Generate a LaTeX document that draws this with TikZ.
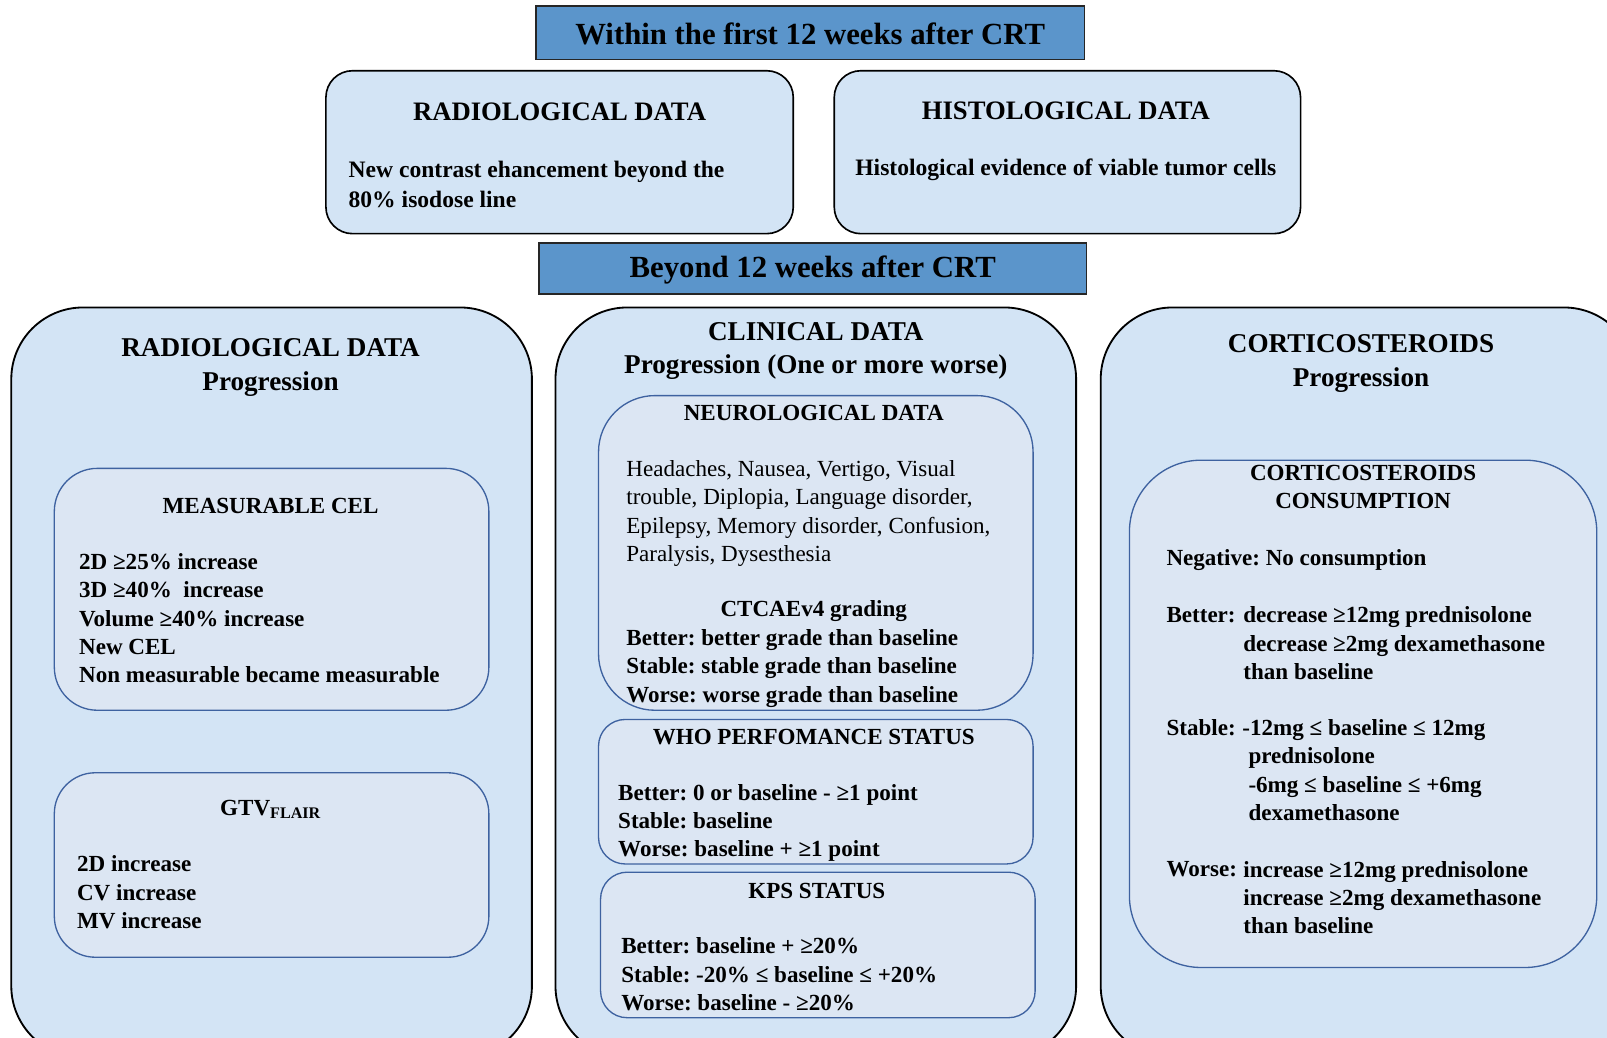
\documentclass[tikz,border=0pt]{standalone}
\usepackage{fontspec}
\setmainfont{Liberation Serif}
\definecolor{hdrblue}{RGB}{91,149,203}
\definecolor{outerblue}{RGB}{211,228,245}
\definecolor{innerfill}{RGB}{220,230,243}
\definecolor{innerline}{RGB}{62,98,160}
\begin{document}
\frenchspacing
\begin{tikzpicture}[x=1pt,y=-1pt,
  hdr/.style={draw=black!85, line width=1.6pt, fill=hdrblue},
  outerbox/.style={draw=black, line width=1.8pt, fill=outerblue, rounded corners=70pt},
  topbox/.style={draw=black, line width=1.6pt, fill=outerblue, rounded corners=26pt},
  innerbox/.style={draw=innerline, line width=1.3pt, fill=innerfill},
  hdrtxt/.style={inner sep=0pt, font=\fontsize{30}{34}\selectfont\bfseries},
  bigttl/.style={inner sep=0pt, anchor=north, align=center, font=\fontsize{26.5}{33}\selectfont\bfseries},
  topttl/.style={inner sep=0pt, font=\fontsize{26}{30}\selectfont\bfseries},
  topbody/.style={inner sep=0pt, anchor=north west, align=left, font=\fontsize{23}{29}\selectfont\bfseries},
  subttl/.style={inner sep=0pt, align=center, font=\fontsize{22.5}{27.5}\selectfont\bfseries},
  body/.style={inner sep=0pt, anchor=north west, align=left, font=\fontsize{22.5}{27.6}\selectfont\bfseries},
  bodyreg/.style={inner sep=0pt, anchor=north west, align=left, font=\fontsize{22.5}{27.7}\selectfont}
]
\useasboundingbox (0,0) rectangle (1568,1012);
\fill[white] (0,0) rectangle (1568,1012);

% ---------- top section ----------
\draw[hdr] (523,6) rectangle (1058,58);
\node[hdrtxt] (h1) at (790.5,33) {Within the first 12 weeks after CRT};

\draw[topbox] (318,69) rectangle (774,228);
\node[topttl] (rt) at (546,109) {RADIOLOGICAL DATA};
\node[topbody] (rb) at (340,157) {New contrast ehancement beyond the\\80\% isodose line};

\draw[topbox] (814,69) rectangle (1269,228);
\node[topttl] (ht) at (1040,108) {HISTOLOGICAL DATA};
\node[inner sep=0pt, font=\fontsize{23}{29}\selectfont\bfseries] (hb) at (1040,166) {Histological evidence of viable tumor cells};

\draw[hdr] (526,237) rectangle (1060,287);
\node[hdrtxt] (h2) at (793,263) {Beyond 12 weeks after CRT};

% ---------- big columns ----------
\begin{scope}
\clip (0,0) rectangle (1568,1012);
\draw[outerbox] (11,300) rectangle (519,1032);
\draw[outerbox] (542,300) rectangle (1050,1032);
\draw[outerbox] (1074,300) rectangle (1596,1032);
\end{scope}

% ---------- left column ----------
\node[bigttl] (lt) at (264,330) {RADIOLOGICAL DATA\\Progression};

\draw[innerbox, rounded corners=42pt] (53,457) rectangle (477,693);
\node[subttl] (mt) at (264,494) {MEASURABLE CEL};
\node[body] (mb) at (77,540) {2D ≥25\% increase\\3D ≥40\%\ \ increase\\Volume ≥40\% increase\\New CEL\\Non measurable became measurable};

\draw[innerbox, rounded corners=40pt] (53,754) rectangle (477,934);
\node[subttl] (gt) at (264,790) {GTV\textsubscript{FLAIR}};
\node[body] (gb) at (75,835) {2D increase\\CV increase\\MV increase};

% ---------- middle column ----------
\node[bigttl] (ct) at (796,314) {CLINICAL DATA\\Progression (One or more worse)};

\draw[innerbox, rounded corners=55pt] (584,386) rectangle (1008,693);
\node[subttl] (nt) at (794,403) {NEUROLOGICAL DATA};
\node[bodyreg] (nb) at (611,449) {Headaches, Nausea, Vertigo, Visual\\trouble, Diplopia, Language disorder,\\Epilepsy, Memory disorder, Confusion,\\Paralysis, Dysesthesia};
\node[subttl] (cg) at (794,596) {CTCAEv4 grading};
\node[body] (cb) at (611,614) {Better: better grade than baseline\\Stable: stable grade than baseline\\Worse: worse grade than baseline};

\draw[innerbox, rounded corners=26pt] (584,702) rectangle (1008,843);
\node[subttl] (wt) at (794,719) {WHO PERFOMANCE STATUS};
\node[body] (wb) at (603,765) {Better: 0 or baseline - ≥1 point\\Stable: baseline\\Worse: baseline + ≥1 point};

\draw[innerbox, rounded corners=26pt] (586,851) rectangle (1010,993);
\node[subttl] (kt) at (797,869) {KPS STATUS};
\node[body] (kb) at (606,915) {Better: baseline + ≥20\%\\Stable: -20\% ≤ baseline ≤ +20\%\\Worse: baseline - ≥20\%};

% ---------- right column ----------
\node[bigttl] (rtt) at (1328,326) {CORTICOSTEROIDS\\Progression};

\draw[innerbox, rounded corners=70pt] (1102,449) rectangle (1558,944);
\node[subttl, anchor=north] (cc) at (1330,454) {CORTICOSTEROIDS\\CONSUMPTION};
\node[body] (neg) at (1138,536) {Negative: No consumption};
\node[body] (bl) at (1138,592) {Better:};
\node[body] (bv) at (1213,592) {decrease ≥12mg prednisolone\\decrease ≥2mg dexamethasone\\than baseline};
\node[body] (sl) at (1138,702) {Stable:};
\node[body] (sv) at (1218,702) {\hspace*{-6pt}-12mg ≤ baseline ≤ 12mg\\prednisolone\\-6mg ≤ baseline ≤ +6mg\\dexamethasone};
\node[body] (wl) at (1138,840) {Worse:};
\node[body] (wv) at (1213,840) {increase ≥12mg prednisolone\\increase ≥2mg dexamethasone\\than baseline};
\end{tikzpicture}
\end{document}
